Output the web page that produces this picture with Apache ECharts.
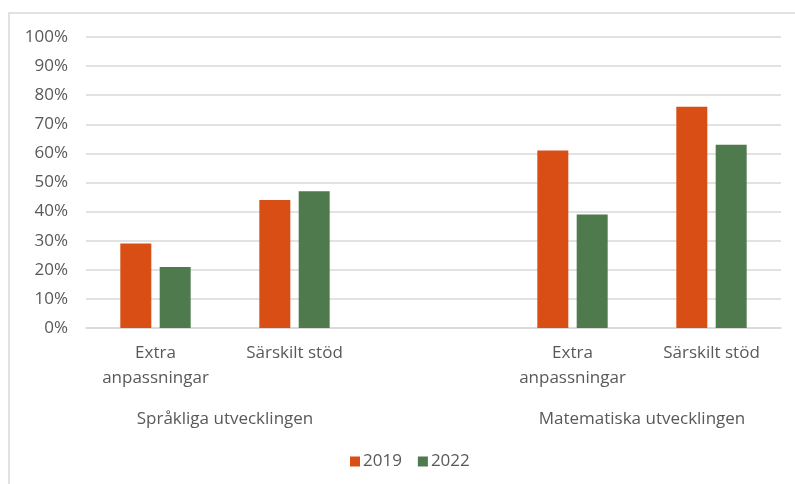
<!DOCTYPE html>
<html>
<head>
<meta charset="utf-8">
<script src="https://cdn.jsdelivr.net/npm/echarts@6/dist/echarts.min.js"></script>
<style>
  html, body { margin: 0; padding: 0; background: #fff; }
  #chart { width: 795px; height: 484px; }
</style>
</head>
<body>
<div id="chart"></div>
<script>
// kategorier (tom plats mellan grupperna)
const categories = ['Extra\nanpassningar', 'Särskilt stöd', '', 'Extra\nanpassningar', 'Särskilt stöd'];
const groups = ['', 'Språkliga utvecklingen', '', '', 'Matematiska utvecklingen', ''];
const years = ['2019', '2022'];
const values2019 = [29, 44, null, 61, 76];
const values2022 = [21, 47, null, 39, 63];
const yTicks = [0, 10, 20, 30, 40, 50, 60, 70, 80, 90, 100];

const textColor = '#595959';
const font = 'Open Sans';

const chart = echarts.init(document.getElementById('chart'));

const option = {
  animation: false,
  textStyle: { fontFamily: font },
  color: ['#D94E14', '#4E7A4E'],
  graphic: [{
    type: 'rect',
    shape: { x: 9, y: 13, width: 800, height: 490 },
    style: { fill: 'none', stroke: '#D9D9D9', lineWidth: 1.5 },
    silent: true
  }],
  grid: { left: 86, right: 14, top: 37, bottom: 156 },
  legend: {
    data: years,
    bottom: 9,
    left: 345,
    itemWidth: 10,
    itemHeight: 10,
    itemGap: 16,
    icon: 'rect',
    textStyle: { color: textColor, fontSize: 17, fontFamily: font, padding: [0, 0, 0, -2] }
  },
  xAxis: [
    {
      type: 'category',
      data: categories,
      axisLine: { lineStyle: { color: '#D9D9D9', width: 1.5 } },
      axisTick: { show: false },
      axisLabel: { color: textColor, fontSize: 17, lineHeight: 25, margin: 13, interval: 0 }
    },
    {
      type: 'category',
      data: groups,
      position: 'bottom',
      boundaryGap: false,
      axisLine: { show: false },
      axisTick: { show: false },
      splitLine: { show: false },
      axisLabel: { color: textColor, fontSize: 17, lineHeight: 24, margin: 79, interval: 0 }
    }
  ],
  yAxis: {
    type: 'value',
    min: yTicks[0],
    max: yTicks[yTicks.length - 1],
    interval: 10,
    axisLine: { show: false },
    axisTick: { show: false },
    splitLine: { lineStyle: { color: '#D9D9D9', width: 1.5 } },
    axisLabel: { color: textColor, fontSize: 17, margin: 18, formatter: '{value}%' }
  },
  series: [
    {
      name: years[0],
      type: 'bar',
      data: values2019,
      barWidth: 31,
      barGap: '27%'
    },
    {
      name: years[1],
      type: 'bar',
      data: values2022,
      barWidth: 31,
      barGap: '27%'
    }
  ]
};

chart.setOption(option);
</script>
</body>
</html>
